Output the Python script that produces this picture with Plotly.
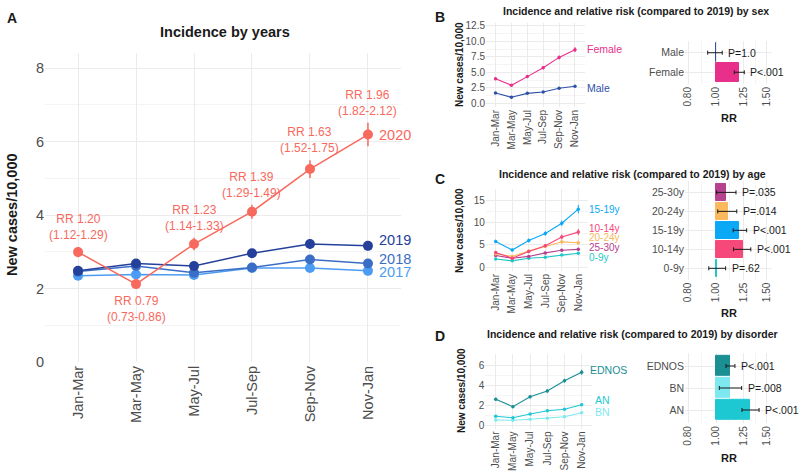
import numpy as np
import plotly.graph_objects as go

FONT = "Liberation Sans"
GRID = "#ebebeb"
MINOR = "#f4f4f4"
TXT = "#4d4d4d"

periods = ["Jan-Mar", "Mar-May", "May-Jul", "Jul-Sep", "Sep-Nov", "Nov-Jan"]

# ---------------- Panel A: incidence by years ----------------
inc_2020 = [2.99, 2.12, 3.21, 4.09, 5.25, 6.19]
err_2020 = [0.14, 0.09, 0.17, 0.19, 0.24, 0.32]
inc_2019 = [2.48, 2.68, 2.61, 2.96, 3.21, 3.16]
err_2019 = [0.10, 0.11, 0.10, 0.11, 0.12, 0.12]
inc_2018 = [2.46, 2.61, 2.43, 2.57, 2.79, 2.68]
err_2018 = [0.10, 0.10, 0.10, 0.10, 0.11, 0.11]
inc_2017 = [2.35, 2.38, 2.37, 2.56, 2.56, 2.48]
err_2017 = [0.10, 0.10, 0.10, 0.10, 0.10, 0.10]
rr_2020 = [1.20, 0.79, 1.23, 1.39, 1.63, 1.96]
rr_2020_lo = [1.12, 0.73, 1.14, 1.29, 1.52, 1.82]
rr_2020_hi = [1.29, 0.86, 1.33, 1.49, 1.75, 2.12]

# ---------------- Panel B: by sex ----------------
sex_groups = ["Female", "Male"]
inc_female = [3.96, 2.90, 4.30, 5.74, 7.40, 8.65]
err_female = [0.23, 0.20, 0.23, 0.27, 0.32, 0.40]
inc_male = [1.66, 0.97, 1.60, 1.82, 2.42, 2.74]
err_male = [0.13, 0.10, 0.12, 0.13, 0.15, 0.17]
rr_sex = [1.204, 1.003]
rr_sex_lo = [1.157, 0.936]
rr_sex_hi = [1.253, 1.051]
p_sex = ["P<.001", "P=1.0"]

# ---------------- Panel C: by age ----------------
age_groups = ["0-9y", "10-14y", "15-19y", "20-24y", "25-30y"]
inc_age = {
    "15-19y": [5.8, 3.85, 6.0, 7.6, 9.9, 13.1],
    "10-14y": [3.3, 2.0, 3.5, 4.8, 6.8, 7.9],
    "20-24y": [3.0, 2.4, 3.6, 4.7, 5.7, 5.5],
    "25-30y": [2.6, 2.0, 2.4, 3.2, 3.8, 4.0],
    "0-9y": [1.8, 1.4, 2.0, 2.2, 2.7, 3.1],
}
err_age = {
    "15-19y": [0.40, 0.35, 0.45, 0.50, 0.60, 0.95],
    "10-14y": [0.35, 0.30, 0.35, 0.40, 0.55, 0.70],
    "20-24y": [0.30, 0.25, 0.30, 0.35, 0.45, 0.50],
    "25-30y": [0.25, 0.20, 0.25, 0.30, 0.30, 0.35],
    "0-9y": [0.15, 0.15, 0.15, 0.18, 0.20, 0.25],
}
rr_age = [1.01, 1.236, 1.20, 1.098, 1.083]
rr_age_lo = [0.944, 1.15, 1.147, 1.014, 1.005]
rr_age_hi = [1.08, 1.32, 1.277, 1.18, 1.173]
p_age = ["P=.62", "P<.001", "P<.001", "P=.014", "P=.035"]

# ---------------- Panel D: by disorder ----------------
dis_groups = ["AN", "BN", "EDNOS"]
inc_dis = {
    "EDNOS": [2.57, 1.83, 2.83, 3.40, 4.43, 5.27],
    "AN": [0.87, 0.73, 1.10, 1.43, 1.57, 2.03],
    "BN": [0.50, 0.47, 0.57, 0.67, 0.83, 1.23],
}
err_dis = {
    "EDNOS": [0.15, 0.13, 0.16, 0.17, 0.20, 0.25],
    "AN": [0.08, 0.08, 0.09, 0.10, 0.10, 0.12],
    "BN": [0.06, 0.06, 0.06, 0.07, 0.08, 0.09],
}
rr_dis = [1.314, 1.12, 1.12]
rr_dis_lo = [1.23, 1.027, 1.083]
rr_dis_hi = [1.41, 1.227, 1.163]
p_dis = ["P<.001", "P=.008", "P<.001"]

# ---------------- styling ----------------
year_colors = {"2020": "#F8695D", "2019": "#24409A", "2018": "#3A6DC6", "2017": "#4C9CF3"}
sex_colors = {"Female": "#E8308A", "Male": "#3050A8"}
age_colors = {"0-9y": "#1FC8C8", "10-14y": "#F7487A", "15-19y": "#0AA8F5",
              "20-24y": "#F9B95C", "25-30y": "#B5418F"}
dis_colors = {"AN": "#1EC8D2", "BN": "#7EE8F0", "EDNOS": "#1A8F94"}


def px(x):
    return x / 800.0


def py(y):
    return 1 - y / 473.0


fig = go.Figure()
annotations = []

# ---- Panel A traces
for yr, vals, err in [("2017", inc_2017, err_2017), ("2018", inc_2018, err_2018),
                      ("2019", inc_2019, err_2019), ("2020", inc_2020, err_2020)]:
    c = year_colors[yr]
    fig.add_trace(go.Scatter(
        x=periods, y=vals, mode="lines+markers", xaxis="x", yaxis="y",
        line=dict(color=c, width=1.5), marker=dict(color=c, size=10),
        error_y=dict(type="data", array=err, color=c, thickness=1.5, width=0),
        hoverinfo="skip"))

year_label_shift = {"2020": 0, "2019": 6, "2018": 5, "2017": -1}
for yr, vals in [("2020", inc_2020), ("2019", inc_2019), ("2018", inc_2018), ("2017", inc_2017)]:
    annotations.append(dict(x=periods[-1], y=vals[-1], xref="x", yref="y", text=yr,
                            showarrow=False, xanchor="left", xshift=9,
                            yshift=year_label_shift[yr],
                            font=dict(family=FONT, size=14.5, color=year_colors[yr])))

for i, p in enumerate(periods):
    txt = f"RR {rr_2020[i]:.2f}<br>({rr_2020_lo[i]:.2f}-{rr_2020_hi[i]:.2f})"
    if rr_2020[i] >= 1:
        annotations.append(dict(x=p, y=inc_2020[i] + err_2020[i], xref="x", yref="y",
                                text=txt, showarrow=False, yanchor="bottom", yshift=3,
                                font=dict(family=FONT, size=12, color=year_colors["2020"])))
    else:
        annotations.append(dict(x=p, y=inc_2020[i] - err_2020[i], xref="x", yref="y",
                                text=txt, showarrow=False, yanchor="top", yshift=-5,
                                font=dict(family=FONT, size=12, color=year_colors["2020"])))


def line_panel(xa, ya, series, errs, colors, label_shift, label_xshift, fsize=10.5):
    for name, vals in series.items():
        c = colors[name]
        fig.add_trace(go.Scatter(
            x=periods, y=vals, mode="lines+markers", xaxis=xa, yaxis=ya,
            line=dict(color=c, width=1.1), marker=dict(color=c, size=3.5),
            error_y=dict(type="data", array=errs[name], color=c, thickness=1, width=0),
            hoverinfo="skip"))
        annotations.append(dict(x=periods[-1], y=vals[-1], xref=xa, yref=ya, text=name,
                                showarrow=False, xanchor="left",
                                xshift=label_xshift.get(name, 9), yshift=label_shift.get(name, 0),
                                font=dict(family=FONT, size=fsize, color=c)))


def bar_panel(xa, ya, cats, rr, lo, hi, pvals, colors, bwidth):
    cols = [colors[c] for c in cats]
    fig.add_trace(go.Bar(
        y=cats, x=[r - 1 for r in rr], base=1, orientation="h", xaxis=xa, yaxis=ya,
        width=bwidth, marker=dict(color=cols, line=dict(color=cols, width=1)),
        hoverinfo="skip"))
    fig.add_trace(go.Scatter(
        y=cats, x=rr, mode="markers", xaxis=xa, yaxis=ya,
        marker=dict(size=1, color="rgba(0,0,0,0)"),
        error_x=dict(type="data", symmetric=False,
                     array=[h - r for h, r in zip(hi, rr)],
                     arrayminus=[r - l for r, l in zip(rr, lo)],
                     color="#1a1a1a", thickness=1, width=2),
        hoverinfo="skip"))
    for c, h, p in zip(cats, hi, pvals):
        annotations.append(dict(x=float(np.log10(h)), y=c, xref=xa, yref=ya, text=p,
                                showarrow=False, xanchor="left", xshift=4,
                                font=dict(family=FONT, size=10.5, color="#1a1a1a")))


line_panel("x2", "y2", {"Female": inc_female, "Male": inc_male},
           {"Female": err_female, "Male": err_male}, sex_colors,
           {"Female": 1, "Male": -2}, {"Female": 10, "Male": 10})
bar_panel("x3", "y3", sex_groups, rr_sex, rr_sex_lo, rr_sex_hi, p_sex, sex_colors, 0.95)

line_panel("x4", "y4", {k: inc_age[k] for k in ["0-9y", "25-30y", "20-24y", "10-14y", "15-19y"]},
           err_age, age_colors,
           {"15-19y": 0, "10-14y": 4, "20-24y": 5, "25-30y": 2, "0-9y": -4}, {}, fsize=10)
bar_panel("x5", "y5", age_groups, rr_age, rr_age_lo, rr_age_hi, p_age, age_colors, 0.9)

line_panel("x6", "y6", {k: inc_dis[k] for k in ["BN", "AN", "EDNOS"]}, err_dis, dis_colors,
           {"EDNOS": 2, "AN": 5, "BN": 1}, {"EDNOS": 6, "AN": 11, "BN": 11})
bar_panel("x7", "y7", dis_groups, rr_dis, rr_dis_lo, rr_dis_hi, p_dis, dis_colors, 0.92)

# ---------------- axes ----------------
def cat_x(domain, rng, size, anchor):
    return dict(domain=domain, range=rng, type="category", anchor=anchor, automargin=False,
                tickangle=-90, tickfont=dict(family=FONT, size=size, color=TXT),
                showgrid=True, gridcolor=GRID, gridwidth=1, zeroline=False,
                showline=False, ticks="", fixedrange=True)


def num_y(domain, rng, tickvals, ticktext, minor_vals, size, anchor):
    return dict(domain=domain, range=rng, anchor=anchor, tickvals=tickvals, ticktext=ticktext,
                automargin=False,
                tickfont=dict(family=FONT, size=size, color=TXT), showgrid=True,
                gridcolor=GRID, gridwidth=1, zeroline=False, showline=False, ticks="",
                minor=dict(tickvals=minor_vals, showgrid=True, gridcolor=MINOR, gridwidth=1),
                fixedrange=True)


def rr_x(domain, anchor):
    return dict(domain=domain, type="log", range=[np.log10(0.781), np.log10(1.563)],
                anchor=anchor, tickvals=[0.8, 1.0, 1.25, 1.5], automargin=False,
                ticktext=["0.80", "1.00", "1.25", "1.50"], tickangle=-90,
                tickfont=dict(family=FONT, size=10, color=TXT), showgrid=True,
                gridcolor=GRID, gridwidth=1, zeroline=False, showline=False, ticks="",
                minor=dict(tickvals=[0.894, 1.118, 1.369], showgrid=True, gridcolor=MINOR,
                           gridwidth=1), fixedrange=True)


def cat_y(domain, rng, anchor):
    return dict(domain=domain, range=rng, type="category", anchor=anchor, automargin=False,
                tickfont=dict(family=FONT, size=10.5, color=TXT), showgrid=True,
                gridcolor=GRID, gridwidth=1, zeroline=False, showline=False, ticks="",
                fixedrange=True)


layout = dict(
    width=800, height=473, margin=dict(l=0, r=0, t=0, b=0, autoexpand=False),
    paper_bgcolor="white", plot_bgcolor="white", showlegend=False,
    bargap=0,
    xaxis=cat_x([px(45), px(401)], [-0.57, 5.57], 14.5, "y"),
    yaxis=num_y([py(362), py(53.3)], [0, 8.4], [0, 2, 4, 6, 8], ["0", "2", "4", "6", "8"],
                [1, 3, 5, 7], 14.5, "x"),
    xaxis2=cat_x([px(486), px(584.5)], [-0.6, 5.6], 10, "y2"),
    yaxis2=num_y([py(107), py(23.3)], [-0.6, 12.9], [0, 2.5, 5, 7.5, 10, 12.5],
                 ["0.0", "2.5", "5.0", "7.5", "10.0", "12.5"], [1.25, 3.75, 6.25, 8.75, 11.25],
                 10, "x2"),
    xaxis3=rr_x([px(685), px(772)], "y3"),
    yaxis3=cat_y([py(84), py(41)], [-0.6, 1.6], "x3"),
    xaxis4=cat_x([px(485.8), px(588.2)], [-0.6, 5.6], 10, "y4"),
    yaxis4=num_y([py(271), py(188.8)], [-0.9, 17.7], [0, 5, 10, 15], ["0", "5", "10", "15"],
                 [2.5, 7.5, 12.5, 17.5], 10, "x4"),
    xaxis5=rr_x([px(685), px(772)], "y5"),
    yaxis5=cat_y([py(279.7), py(181)], [-0.6, 4.6], "x5"),
    xaxis6=cat_x([px(485.4), px(592)], [-0.6, 5.6], 10, "y6"),
    yaxis6=num_y([py(428.5), py(354)], [-0.35, 7.1], [0, 2, 4, 6], ["0", "2", "4", "6"],
                 [1, 3, 5, 7], 10, "x6"),
    xaxis7=rr_x([px(685), px(772)], "y7"),
    yaxis7=cat_y([py(423.2), py(352.8)], [-0.6, 2.6], "x7"),
)

# titles, panel letters and axis titles
def paper_text(x, y, text, size, bold=True, angle=0, color="#1a1a1a", xanchor="center"):
    annotations.append(dict(x=px(x), y=py(y), xref="paper", yref="paper",
                            text=f"<b>{text}</b>" if bold else text, showarrow=False,
                            textangle=angle, xanchor=xanchor, yanchor="middle",
                            font=dict(family=FONT, size=size, color=color)))


paper_text(12, 18, "A", 14, xanchor="center")
paper_text(440, 17, "B", 14)
paper_text(440, 179, "C", 14)
paper_text(440, 336, "D", 14)
paper_text(225, 32, "Incidence by years", 14.5)
paper_text(635.5, 11, "Incidence and relative risk (compared to 2019) by sex", 10.5)
paper_text(632.5, 174, "Incidence and relative risk (compared to 2019) by age", 10.5)
paper_text(632.5, 334, "Incidence and relative risk (compared to 2019) by disorder", 10.5)
paper_text(12, 215, "New cases/10,000", 14.5, angle=-90)
paper_text(459, 65, "New cases/10,000", 10, angle=-90)
paper_text(460, 230, "New cases/10,000", 10, angle=-90)
paper_text(461, 391, "New cases/10,000", 10, angle=-90)
paper_text(728.5, 118, "RR", 11)
paper_text(728.5, 313, "RR", 11)
paper_text(728.5, 458, "RR", 11)

layout["annotations"] = annotations
fig.update_layout(**layout)
fig.write_html("out.html", config={"displayModeBar": False},
               post_script="document.body.style.margin='0';document.body.style.overflow='hidden';")
